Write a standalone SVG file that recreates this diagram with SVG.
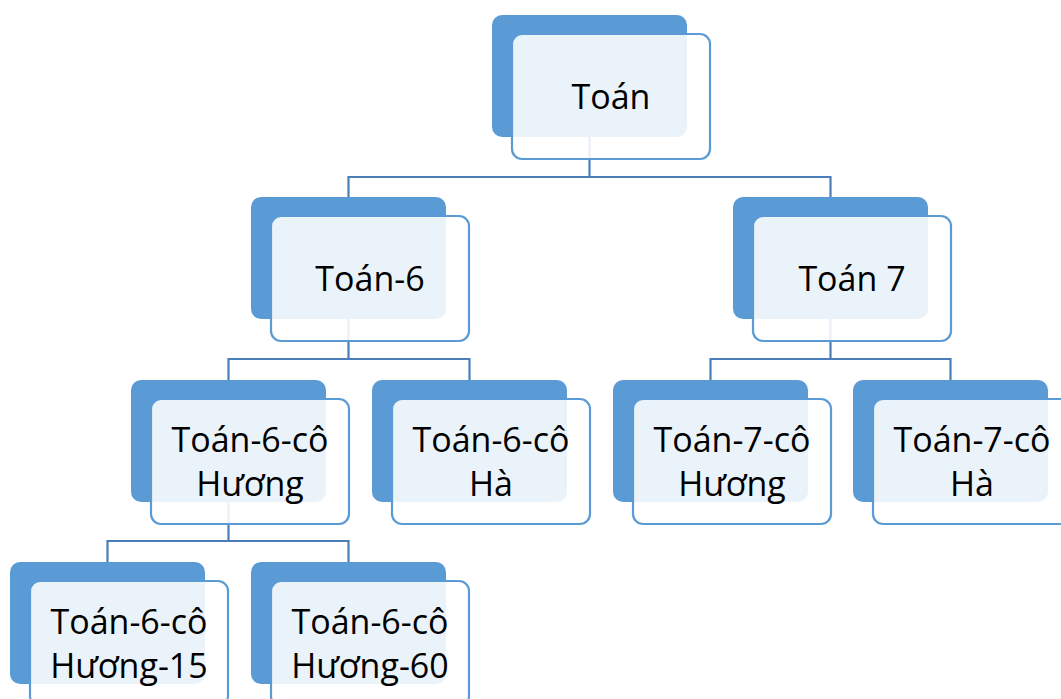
<svg xmlns="http://www.w3.org/2000/svg" width="1061" height="699" viewBox="0 0 1061 699">
<style>
.back{fill:#5B9BD5;}
.front{fill:#FFFFFF;fill-opacity:0.88;stroke:#5B9BD5;stroke-width:2.2;}
.conn{fill:none;stroke:#4A7EB8;stroke-width:2.2;}
text{font-family:"Open Sans","Liberation Sans",sans-serif;font-size:34px;fill:#000;text-anchor:middle;}
</style>
<rect width="1061" height="699" fill="#FFFFFF"/>
<g id="connectors">
<path class="conn" d="M589.5 137V177M348.5 197V177H830.5V197"/>
<path class="conn" d="M348.5 319V359M228.5 380V359H469.5V380"/>
<path class="conn" d="M830.5 319V359M710.5 380V359H950.5V380"/>
<path class="conn" d="M228.5 502V541M107.5 562V541H348.5V562"/>
</g>
<g id="toan">
<rect class="back" x="492" y="15" width="195" height="122" rx="10"/>
<rect class="front" x="512" y="34" width="198" height="125" rx="10"/>
<text x="611" y="108.5">Toán</text>
</g>
<g id="toan6">
<rect class="back" x="251" y="197" width="195" height="122" rx="10"/>
<rect class="front" x="271" y="216" width="198" height="125" rx="10"/>
<text x="370" y="290.5">Toán-6</text>
</g>
<g id="toan7">
<rect class="back" x="733" y="197" width="195" height="122" rx="10"/>
<rect class="front" x="753" y="216" width="198" height="125" rx="10"/>
<text x="852" y="290.5">Toán 7</text>
</g>
<g id="toan6-huong">
<rect class="back" x="131" y="380" width="195" height="122" rx="10"/>
<rect class="front" x="151" y="399" width="198" height="125" rx="10"/>
<text x="250" y="451.5">Toán-6-cô</text>
<text x="250" y="495.5">Hương</text>
</g>
<g id="toan6-ha">
<rect class="back" x="372" y="380" width="195" height="122" rx="10"/>
<rect class="front" x="392" y="399" width="198" height="125" rx="10"/>
<text x="491" y="451.5">Toán-6-cô</text>
<text x="491" y="495.5">Hà</text>
</g>
<g id="toan7-huong">
<rect class="back" x="613" y="380" width="195" height="122" rx="10"/>
<rect class="front" x="633" y="399" width="198" height="125" rx="10"/>
<text x="732" y="451.5">Toán-7-cô</text>
<text x="732" y="495.5">Hương</text>
</g>
<g id="toan7-ha">
<rect class="back" x="853" y="380" width="195" height="122" rx="10"/>
<rect class="front" x="873" y="399" width="198" height="125" rx="10"/>
<text x="972" y="451.5">Toán-7-cô</text>
<text x="972" y="495.5">Hà</text>
</g>
<g id="toan6-huong-15">
<rect class="back" x="10" y="562" width="195" height="122" rx="10"/>
<rect class="front" x="30" y="581" width="198" height="125" rx="10"/>
<text x="129" y="633.5">Toán-6-cô</text>
<text x="129" y="677.5">Hương-15</text>
</g>
<g id="toan6-huong-60">
<rect class="back" x="251" y="562" width="195" height="122" rx="10"/>
<rect class="front" x="271" y="581" width="198" height="125" rx="10"/>
<text x="370" y="633.5">Toán-6-cô</text>
<text x="370" y="677.5">Hương-60</text>
</g>
</svg>
